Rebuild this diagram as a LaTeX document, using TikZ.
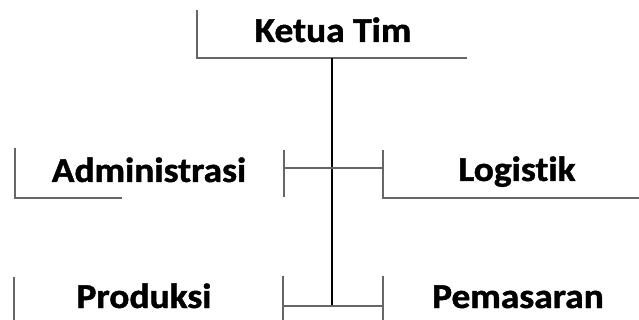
\documentclass[tikz,border=0pt]{standalone}
\usepackage{fontspec}
\setmainfont{Carlito}[Ligatures={NoCommon}, BoldFeatures={FakeBold=1.2}]
\begin{document}
\begin{tikzpicture}[x=1pt,y=-1pt,
  label/.style={font=\bfseries\fontsize{35}{38}\selectfont, anchor=base,
    inner sep=0pt, xscale=1.07, transform shape},
  frame/.style={draw=black!60, line width=1.3pt},
  trunk/.style={draw=black, line width=1.8pt}]
\useasboundingbox (0,0) rectangle (639,320);

% titles
\node[label] (ketua) at (333,42) {Ketua Tim};
\node[label] (admin) at (149,182) {Administrasi};
\node[label] (logis) at (517,181) {Logistik};
\node[label] (prod)  at (144,308) {Produksi};
\node[label] (pemas) at (518,308) {Pemasaran};

% corner frames around the titles
\coordinate (kTop) at (197,10);
\coordinate (kCorner) at (197,58);
\coordinate (kEnd) at (467,58);
\draw[frame] (kTop) -- (kCorner) -- (kEnd);

\coordinate (aTop) at (15,148);
\coordinate (aCorner) at (15,198);
\coordinate (aEnd) at (122,198);
\draw[frame] (aTop) -- (aCorner) -- (aEnd);

\coordinate (lTop) at (383,150);
\coordinate (lCorner) at (383,198);
\coordinate (lEnd) at (639,198);
\draw[frame] (lTop) -- (lCorner) -- (lEnd);

\coordinate (pTop) at (14,277);
\coordinate (pBot) at (14,320);
\draw[frame] (pTop) -- (pBot);

% vertical trunk from the head down to the bottom row
\coordinate (trunkTop) at (332,58);
\coordinate (trunkBot) at (332,306);
\draw[trunk] (trunkTop) -- (trunkBot);

% middle branch
\coordinate (mL1) at (284,150);
\coordinate (mL2) at (284,197);
\draw[frame] (mL1) -- (mL2);
\coordinate (mH1) at (284,168);
\coordinate (mH2) at (383,168);
\draw[frame] (mH1) -- (mH2);

% bottom branch
\coordinate (bL1) at (283,276);
\coordinate (bL2) at (283,320);
\draw[frame] (bL1) -- (bL2);
\coordinate (bR1) at (383,276);
\coordinate (bR2) at (383,320);
\draw[frame] (bR1) -- (bR2);
\coordinate (bH1) at (283,306);
\coordinate (bH2) at (383,306);
\draw[frame] (bH1) -- (bH2);
\end{tikzpicture}
\end{document}
